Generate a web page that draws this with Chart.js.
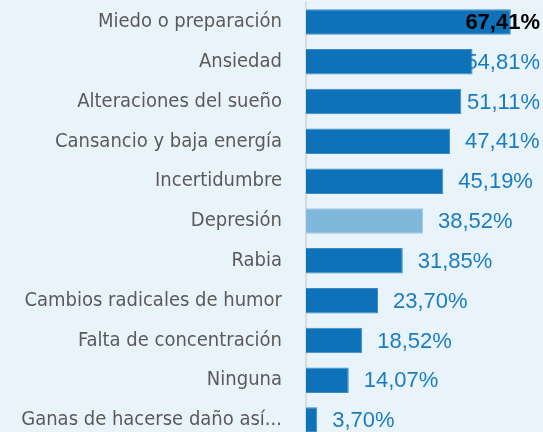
<!DOCTYPE html>
<html>
<head>
<meta charset="utf-8">
<script src="https://cdn.jsdelivr.net/npm/chart.js@4"></script>
<style>
  html, body { margin: 0; padding: 0; overflow: hidden; background: #e9f4fa; }
  canvas { display: block; margin-top: -10px; }
</style>
</head>
<body>
<canvas id="myChart" width="543" height="462"></canvas>
<script>
// categories and values (percent)
const labels = [
    'Miedo o preparación',
    'Ansiedad',
    'Alteraciones del sueño',
    'Cansancio y baja energía',
    'Incertidumbre',
    'Depresión',
    'Rabia',
    'Cambios radicales de humor',
    'Falta de concentración',
    'Ninguna',
    'Ganas de hacerse daño así...'
];
const values = [67.41, 54.81, 51.11, 47.41, 45.19, 38.52, 31.85, 23.70, 18.52, 14.07, 3.70];
const highlightIndex = 5;   // lighter bar (Depresión)
const activeIndex = 0;      // bold black label

const barColors = values.map((v, i) => i == highlightIndex ? '#80b8dc' : '#0e72b8');
const borderColors = values.map((v, i) => i == highlightIndex ? '#a3cbe6' : '#3d8cc8');

function fmt(v) {
    return v.toFixed(2).replace('.', ',') + '%';
}

// value labels: normal ones behind the bars, the active one on top
function drawLabels(chart, onTop) {
    const ctx = chart.ctx;
    const meta = chart.getDatasetMeta(0);
    ctx.save();
    ctx.textBaseline = 'middle';
    ctx.textAlign = 'left';
    meta.data.forEach(function (bar, i) {
        const isActive = i == activeIndex;
        if (isActive != onTop) return;
        ctx.font = (isActive ? 'bold ' : '') + '22px "Liberation Sans", Arial, sans-serif';
        ctx.fillStyle = isActive ? '#000000' : '#1a7cc1';
        const txt = fmt(values[i]);
        const w = ctx.measureText(txt).width;
        let x = bar.x + 15;
        if (x + w > 540) x = 540 - w;
        ctx.fillText(txt, x, bar.y + 1);
    });
    ctx.restore();
}

const valueLabels = {
    id: 'valueLabels',
    beforeDatasetsDraw(chart) { drawLabels(chart, false); },
    afterDatasetsDraw(chart) { drawLabels(chart, true); }
};

const data = {
    labels: labels,
    datasets: [{
        data: values,
        backgroundColor: barColors,
        borderColor: borderColors,
        borderWidth: 1,
        barPercentage: 0.64,
        categoryPercentage: 1
    }]
};

const config = {
    type: 'bar',
    data,
    options: {
        indexAxis: 'y',
        responsive: false,
        animation: false,
        layout: { padding: 0 },
        plugins: {
            legend: { display: false },
            tooltip: { enabled: false }
        },
        scales: {
            x: {
                display: false,
                min: 0,
                max: 78
            },
            y: {
                afterFit: function (s) { s.width = 306; },
                // transparent tick marks give the gap between labels and axis
                grid: { display: true, drawOnChartArea: false, drawTicks: true, tickLength: 24, color: 'rgba(0,0,0,0)' },
                border: { display: true, color: '#d9dcde', width: 2 },
                ticks: {
                    padding: 0,
                    color: '#5a5a5a',
                    font: { family: '"Liberation Sans Narrow", "DejaVu Sans Condensed", sans-serif', size: 20 }
                }
            }
        }
    },
    plugins: [valueLabels]
};

const myChart = new Chart(document.getElementById('myChart'), config);
</script>
</body>
</html>
